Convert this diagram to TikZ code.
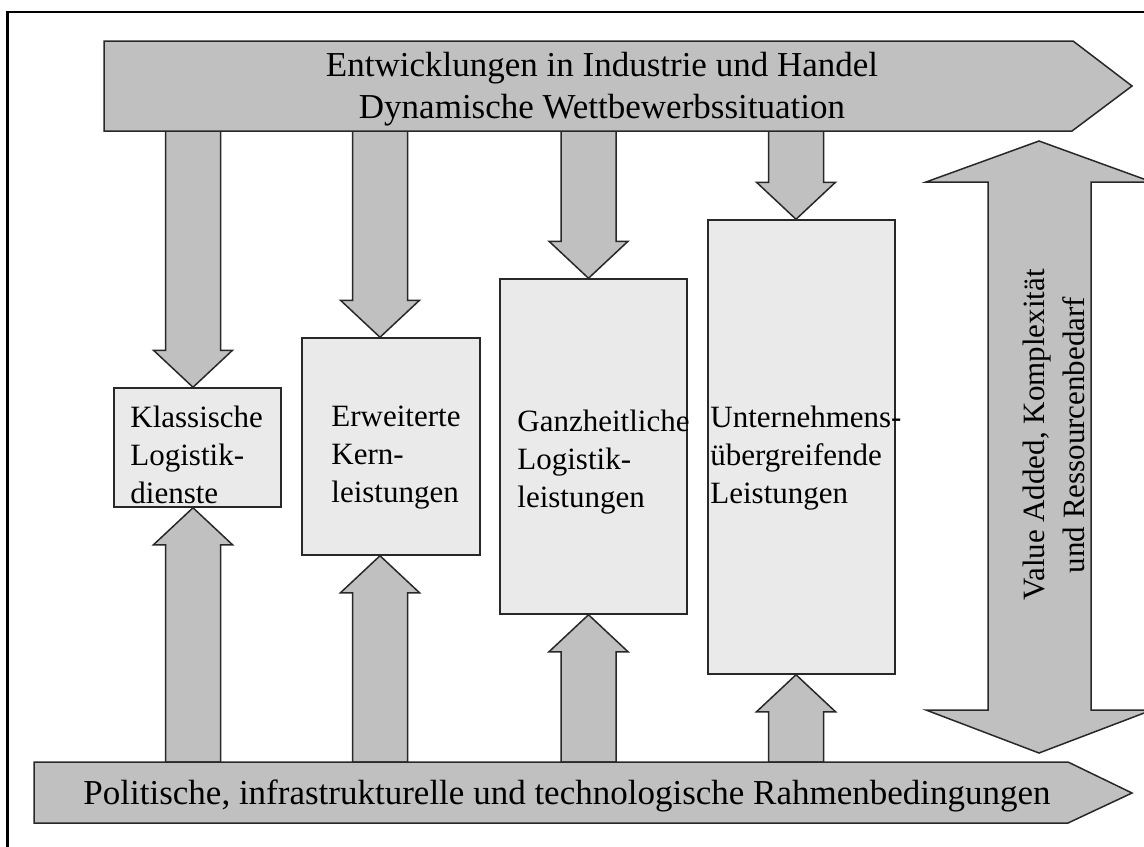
\documentclass[tikz,border=0pt]{standalone}
\usepackage{fontspec}
\setmainfont{Liberation Serif}
\definecolor{bandgray}{RGB}{192,192,192}
\definecolor{boxgray}{RGB}{234,234,234}
\definecolor{edgegray}{RGB}{40,40,40}

\begin{document}
\begin{tikzpicture}[x=0.5pt,y=-0.5pt,
    band/.style={draw=edgegray,line width=0.75pt,fill=bandgray,line join=miter},
    box/.style={rectangle,draw=edgegray,line width=0.75pt,fill=boxgray,inner sep=0pt},
    boxtext/.style={anchor=west,inner sep=0pt,align=left,font=\fontsize{15.5}{19}\selectfont},
    bandtext/.style={inner sep=0pt,align=center,font=\fontsize{17.5}{21}\selectfont}]
  \useasboundingbox (0,0) rectangle (1144,846);
  \draw[line width=1.25pt] (7.5,900) -- (7.5,12) -- (1200,12);

  % the four service boxes
  \node[box, minimum width=83.5pt, minimum height=59.5pt] at (197.5,447.5) (b1) {};
  \node[box, minimum width=89pt, minimum height=108.5pt] at (391,446.5) (b2) {};
  \node[box, minimum width=93.5pt, minimum height=167.5pt] at (593.5,446.5) (b3) {};
  \node[box, minimum width=93.5pt, minimum height=227pt] at (801.5,447) (b4) {};

  % block arrows into each box
  \foreach \xc/\b in {193/b1, 380/b2, 588.5/b3, 796/b4}{
    \coordinate (hn) at ([yshift=18.5pt]\b.north);
    \coordinate (hs) at ([yshift=-18.5pt]\b.south);
    \draw[band] (\xc-27.5,131) -- (\xc+27.5,131) -- (\xc+27.5,0 |- hn) -- (\xc+39.5,0 |- hn)
      -- (\xc,0 |- \b.north) -- (\xc-39.5,0 |- hn) -- (\xc-27.5,0 |- hn) -- cycle;
    \draw[band] (\xc-27.5,762) -- (\xc+27.5,762) -- (\xc+27.5,0 |- hs) -- (\xc+39.5,0 |- hs)
      -- (\xc,0 |- \b.south) -- (\xc-39.5,0 |- hs) -- (\xc-27.5,0 |- hs) -- cycle;
  }

  % bands and the double arrow
  \draw[band] (104,41) -- (1073,41) -- (1132,86) -- (1072,131) -- (104,131) -- cycle;
  \draw[band] (34,762) -- (1068,762) -- (1132,793) -- (1068,823) -- (34,823) -- cycle;
  \draw[band] (988,182) -- (926,182) -- (1039,141) -- (1152,182) -- (1091,182) -- (1091,710)
    -- (1152,710) -- (1039,753) -- (926,710) -- (988,710) -- cycle;

  \node[bandtext] at (602,89) (dev) {Entwicklungen in Industrie und Handel\\Dynamische Wettbewerbssituation};
  \node[bandtext] at (567,796) (cond) {Politische, infrastrukturelle und technologische Rahmenbedingungen};
  \node[boxtext, rotate=90, anchor=center, align=center, font=\fontsize{15.5}{20}\selectfont] at (1053.5,435) (va)
    {Value Added, Komplexität\\und Ressourcenbedarf};

  \node[boxtext] at (130,455) (t1) {Klassische\\Logistik-\\dienste};
  \node[boxtext] at (331,458) (t2) {Erweiterte\\Kern-\\leistungen};
  \node[boxtext] at (517,462) (t3) {Ganzheitliche\\Logistik-\\leistungen};
  \node[boxtext] at (710,458) (t4) {Unternehmens-\\übergreifende\\Leistungen};
\end{tikzpicture}
\end{document}
